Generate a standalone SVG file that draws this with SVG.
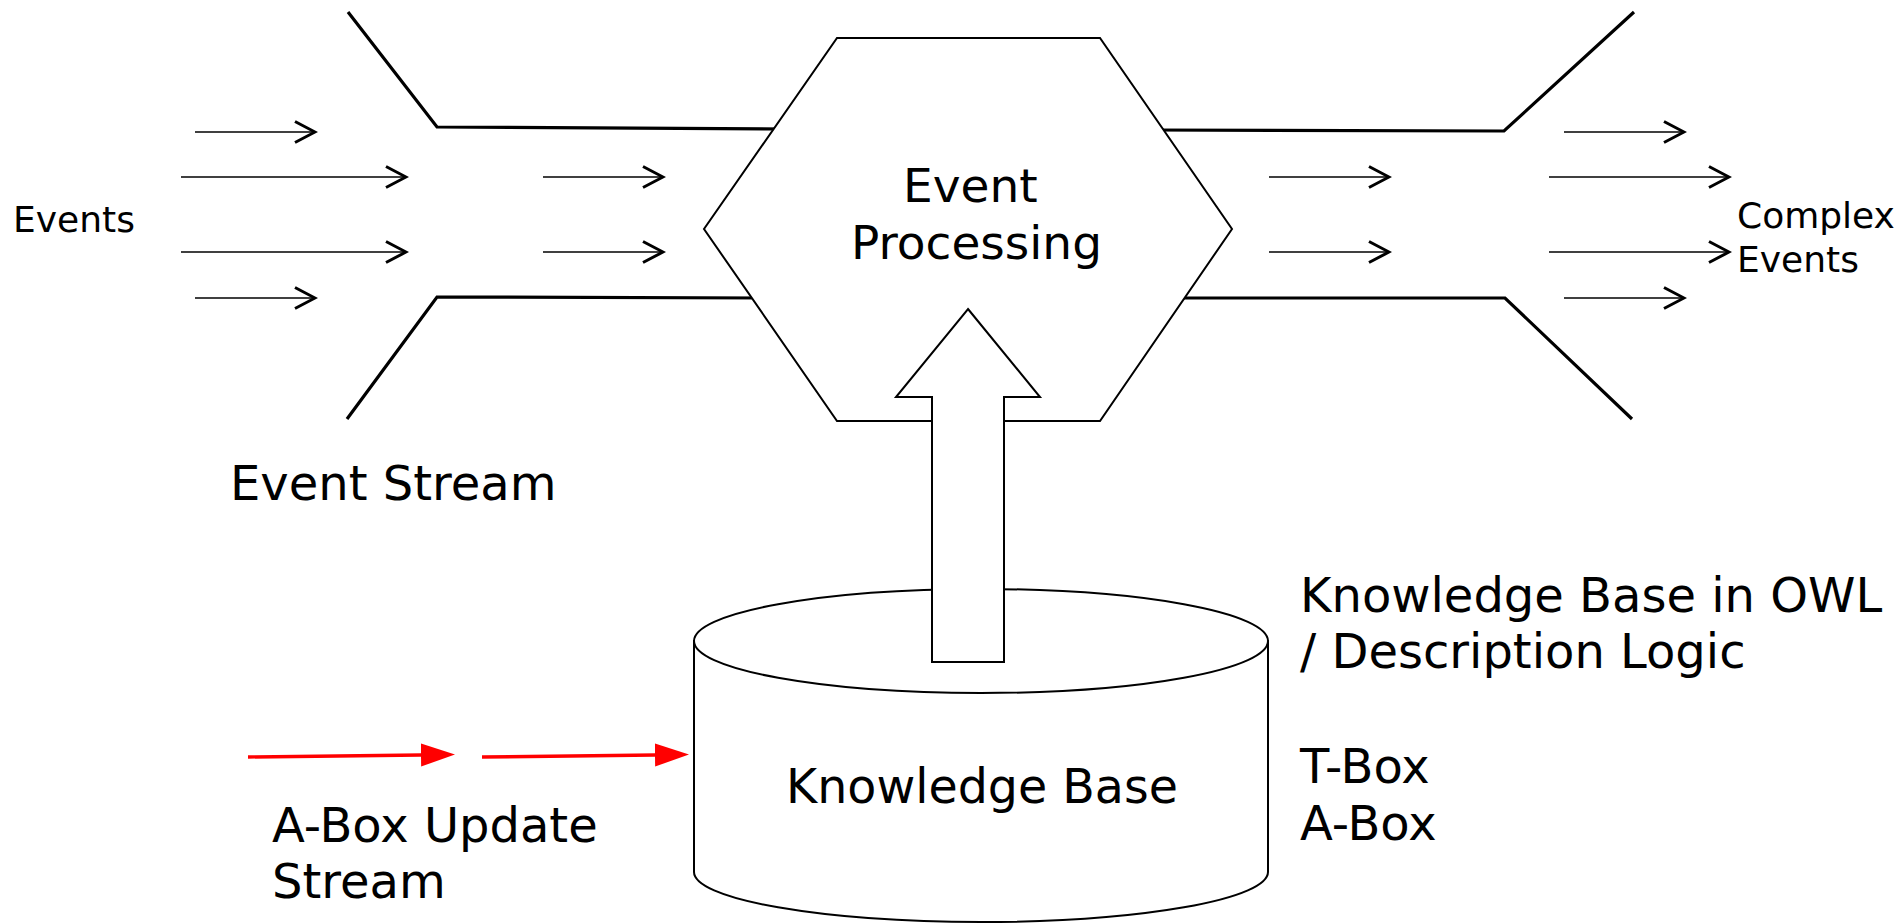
<svg xmlns="http://www.w3.org/2000/svg" width="1901" height="923" viewBox="0 0 1901 923">
  <style>
    .funnel { fill: none; stroke: #000; stroke-width: 3.2; stroke-linejoin: miter; }
    .flow { stroke: #000; stroke-width: 1.6; marker-end: url(#chev); }
    .update { stroke: #ff0000; stroke-width: 3.4; marker-end: url(#redhead); }
    .shape { fill: #fff; stroke: #000; stroke-width: 2; }
    .label { font-family: "DejaVu Sans", "Liberation Sans", sans-serif; fill: #000; }
    .small { font-size: 36px; }
    .big { font-size: 48px; }
  </style>
  <defs>
    <marker id="chev" markerUnits="userSpaceOnUse" viewBox="0 0 24 24" markerWidth="24" markerHeight="24" refX="21" refY="12" orient="auto">
      <path d="M1,1.5 L21,12 L1,22.5" fill="none" stroke="#000" stroke-width="3"/>
    </marker>
    <marker id="redhead" markerUnits="userSpaceOnUse" viewBox="0 0 34 24" markerWidth="34" markerHeight="24" refX="0" refY="12" orient="auto">
      <path d="M0,0.5 L34,12 L0,23.5 z" fill="#ff0000"/>
    </marker>
  </defs>

  <!-- stream walls on both sides of the processor -->
  <g id="event-stream-walls">
    <polyline class="funnel" points="348,12 437,127 790,129"/>
    <polyline class="funnel" points="347,419 437,297 770,298"/>
    <polyline class="funnel" points="1150,130 1504,131 1634,12"/>
    <polyline class="funnel" points="1170,298 1505,298 1632,419"/>
  </g>

  <!-- event processing hexagon -->
  <g id="event-processing">
    <polygon class="shape" points="837,38 1100,38 1232,229 1100,421 837,421 704,229"/>
    <text class="label" x="903" y="202" font-size="47">Event</text>
    <text class="label" x="851" y="259" font-size="47">Processing</text>
  </g>

  <!-- knowledge base cylinder -->
  <g id="knowledge-base">
    <path class="shape" d="M694,641 L694,872 A287,50 0 0 0 1268,872 L1268,641 Z"/>
    <ellipse class="shape" cx="981" cy="641" rx="287" ry="52"/>
    <text class="label" x="982" y="803" font-size="47.5" text-anchor="middle">Knowledge Base</text>
  </g>

  <!-- connectors -->
  <g id="connectors">
    <!-- incoming events -->
    <line class="flow" x1="195" y1="132" x2="315" y2="132"/>
    <line class="flow" x1="181" y1="177" x2="406" y2="177"/>
    <line class="flow" x1="181" y1="252" x2="406" y2="252"/>
    <line class="flow" x1="195" y1="298" x2="315" y2="298"/>
    <line class="flow" x1="543" y1="177" x2="663" y2="177"/>
    <line class="flow" x1="543" y1="252" x2="663" y2="252"/>
    <!-- outgoing complex events -->
    <line class="flow" x1="1269" y1="177" x2="1389" y2="177"/>
    <line class="flow" x1="1269" y1="252" x2="1389" y2="252"/>
    <line class="flow" x1="1564" y1="132" x2="1684" y2="132"/>
    <line class="flow" x1="1549" y1="177" x2="1729" y2="177"/>
    <line class="flow" x1="1549" y1="252" x2="1729" y2="252"/>
    <line class="flow" x1="1564" y1="298" x2="1684" y2="298"/>
    <!-- A-Box updates into the knowledge base -->
    <line class="update" x1="248" y1="757" x2="421" y2="755"/>
    <line class="update" x1="482" y1="757" x2="655" y2="755"/>
    <!-- knowledge feeding the processor -->
    <polygon class="shape" stroke-width="2.2" points="968,309 1040,397 1004,397 1004,662 932,662 932,397 896,397"/>
  </g>

  <!-- free labels -->
  <g id="labels">
    <text class="label small" x="13" y="232">Events</text>
    <text class="label small" x="1737" y="228">Complex</text>
    <text class="label small" x="1737" y="272">Events</text>
    <text class="label big" x="230" y="500">Event Stream</text>
    <text class="label big" x="272" y="842">A-Box Update</text>
    <text class="label big" x="272" y="898">Stream</text>
    <text class="label big" x="1300" y="612">Knowledge Base in OWL</text>
    <text class="label big" x="1300" y="668">/ Description Logic</text>
    <text class="label big" x="1300" y="783">T-Box</text>
    <text class="label big" x="1300" y="840">A-Box</text>
  </g>
</svg>
